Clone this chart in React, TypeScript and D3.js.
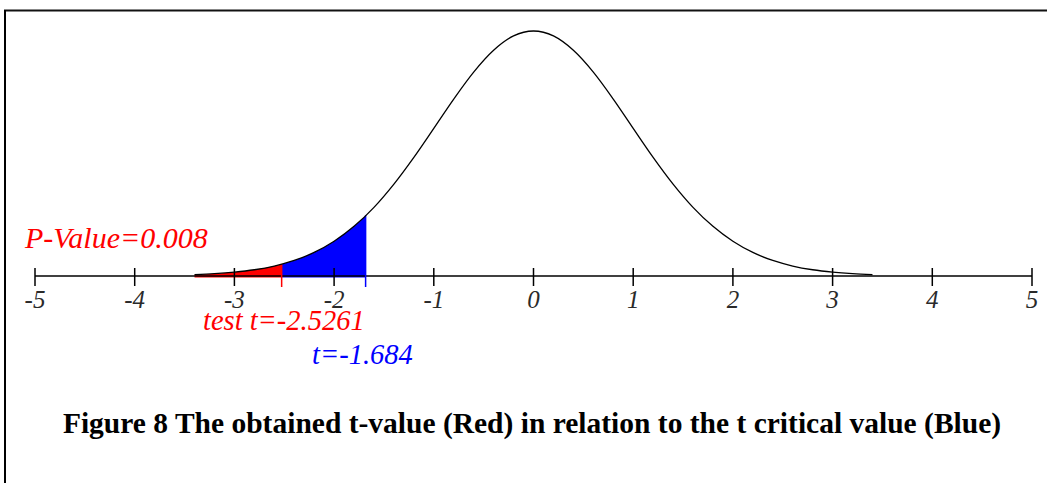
import React from "react";
import * as d3 from "d3";

// t values where the curve was read, and the density height at each
const tPoints = [
  -3.4, -3.2, -3.0, -2.8, -2.6, -2.4, -2.2, -2.0, -1.8, -1.6, -1.4, -1.2, -1.0,
  -0.8, -0.6, -0.4, -0.2, 0, 0.2, 0.4, 0.6, 0.8, 1.0, 1.2, 1.4, 1.6, 1.8, 2.0,
  2.2, 2.4, 2.6, 2.8, 3.0, 3.2, 3.4,
];
const density = [
  0.0022, 0.0037, 0.0062, 0.0101, 0.0161, 0.0251, 0.0381, 0.0562, 0.0803,
  0.1111, 0.1487, 0.192, 0.2389, 0.2863, 0.3299, 0.3652, 0.3884, 0.3964,
  0.3884, 0.3652, 0.3299, 0.2863, 0.2389, 0.192, 0.1487, 0.1111, 0.0803,
  0.0562, 0.0381, 0.0251, 0.0161, 0.0101, 0.0062, 0.0037, 0.0022,
];
const ticks = [-5, -4, -3, -2, -1, 0, 1, 2, 3, 4, 5];
const testT = -2.5261;
const criticalT = -1.684;
const pValueLabel = "P-Value=0.008";
const testLabel = "test t=-2.5261";
const criticalLabel = "t=-1.684";
const caption =
  "Figure 8 The obtained t-value (Red) in relation to the t critical value (Blue)";

const W = 1047;
const H = 483;
const axisY = 276;

export default function App() {
  const pts = tPoints.map((t, i) => ({ t, d: density[i] }));

  const x = d3.scaleLinear().domain([-5, 5]).range([35, 1032]);
  const y = d3.scaleLinear().domain([0, 0.3964]).range([axisY, 31]);

  const line = d3
    .line<{ t: number; d: number }>()
    .x((p) => x(p.t))
    .y((p) => y(p.d))
    .curve(d3.curveMonotoneX);

  const area = d3
    .area<{ t: number; d: number }>()
    .x((p) => x(p.t))
    .y0(axisY + 1.5)
    .y1((p) => y(p.d))
    .curve(d3.curveMonotoneX);

  const tMin = tPoints[0];
  const serif = "'Liberation Serif', 'Times New Roman', serif";
  const densAt = (t: number) => {
    const i = d3.bisector((p: { t: number }) => p.t).left(pts, t);
    const a = pts[i - 1];
    const b = pts[i];
    return a.d + ((b.d - a.d) * (t - a.t)) / (b.t - a.t);
  };

  return (
    <svg
      width={W}
      height={H}
      style={{ position: "absolute", left: 0, top: 0, background: "#fff" }}
    >
      <defs>
        <clipPath id="clipRed">
          <rect x={x(tMin) - 3} y={0} width={x(testT) - x(tMin) + 3} height={H} />
        </clipPath>
        <clipPath id="clipBlue">
          <rect x={x(testT)} y={0} width={x(criticalT) - x(testT)} height={H} />
        </clipPath>
      </defs>

      {/* frame */}
      <line x1={4} x2={W} y1={10.5} y2={10.5} stroke="#111" strokeWidth={2} />
      <line x1={5} x2={5} y1={10} y2={H} stroke="#000" strokeWidth={2} />

      {/* shaded tails */}
      <path d={area(pts) || ""} fill="#ff0000" clipPath="url(#clipRed)" />
      <path d={area(pts) || ""} fill="#0000ff" clipPath="url(#clipBlue)" />

      {/* axis */}
      <line x1={x(-5)} x2={x(5)} y1={axisY} y2={axisY} stroke="#000" strokeWidth={1.5} />
      {ticks.map((t) => (
        <g key={t}>
          <line x1={x(t)} x2={x(t)} y1={axisY - 8} y2={axisY + 10} stroke="#000" strokeWidth={1.5} />
          <text
            x={x(t)}
            y={308}
            textAnchor="middle"
            fontFamily={serif}
            fontStyle="italic"
            fontSize={25}
            fill="#2a2a2a"
          >
            {t}
          </text>
        </g>
      ))}

      {/* boundary lines */}
      <line
        x1={x(testT)}
        x2={x(testT)}
        y1={y(densAt(testT))}
        y2={axisY + 11}
        stroke="#ff0000"
        strokeWidth={1.5}
      />
      <line
        x1={x(criticalT)}
        x2={x(criticalT)}
        y1={y(densAt(criticalT))}
        y2={axisY + 11}
        stroke="#0000ff"
        strokeWidth={1.5}
      />

      {/* curve */}
      <path d={line(pts) || ""} fill="none" stroke="#000" strokeWidth={1.3} />

      {/* labels */}
      <text x={25} y={248} fontFamily={serif} fontStyle="italic" fontSize={30} fill="#ff0000">
        {pValueLabel}
      </text>
      <text x={203} y={330} fontFamily={serif} fontStyle="italic" fontSize={28.5} fill="#ff0000">
        {testLabel}
      </text>
      <text x={312} y={364} fontFamily={serif} fontStyle="italic" fontSize={28.5} fill="#0000ff">
        {criticalLabel}
      </text>

      <text
        x={532}
        y={433}
        textAnchor="middle"
        fontFamily={serif}
        fontWeight="bold"
        fontSize={29.5}
        fill="#000"
      >
        {caption}
      </text>
    </svg>
  );
}
